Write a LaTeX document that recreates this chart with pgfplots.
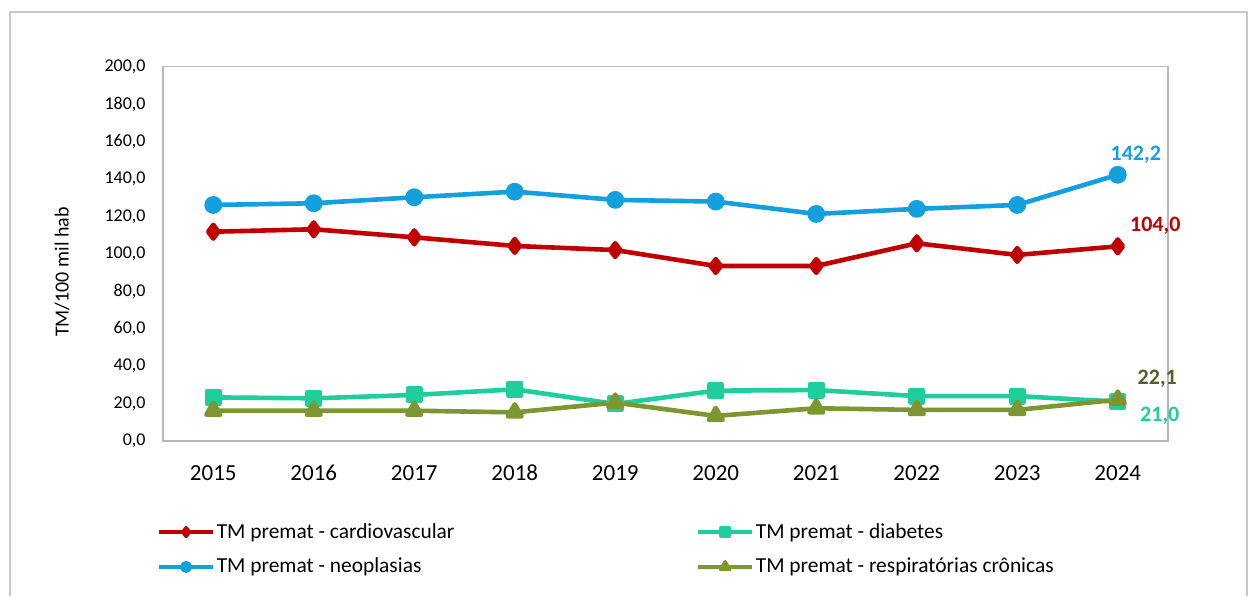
\documentclass[border=0pt]{standalone}
\usepackage{fontspec}
\setmainfont{Carlito}
\usepackage{pgfplots}
\usepackage{pgfplotstable}
\pgfplotsset{compat=1.18}

\definecolor{cardio}{RGB}{192,0,0}
\definecolor{neo}{RGB}{20,160,220}
\definecolor{diab}{RGB}{30,206,156}
\definecolor{resp}{RGB}{125,151,48}
\definecolor{respdark}{RGB}{79,98,40}
\definecolor{frame}{RGB}{200,200,200}

% taxas de mortalidade prematura por 100 mil hab, 2015-2024
\pgfplotstableread{
x cardio diab neo resp
0 111.8 23.3 126.1 16.2
1 113.1 22.8 127.0 16.2
2 108.8 24.6 130.2 16.2
3 104.2 27.6 133.2 15.3
4 102.0 19.8 128.8 20.5
5  93.5 26.9 127.9 13.4
6  93.5 27.2 121.3 17.5
7 105.6 24.0 124.0 16.6
8  99.4 24.0 126.1 16.6
9 104.0 21.0 142.2 22.1
}\tmdata

\begin{document}
\begin{tikzpicture}
\useasboundingbox (0,0) rectangle (625pt,298pt);
% outer chart frame
\draw[frame, line width=1pt] (5pt,0pt) -- (5pt,292pt) -- (623.5pt,292pt) -- (623.5pt,0pt);
\node[rotate=90, font=\fontsize{10}{12}\selectfont] at (31pt,162pt) {TM/100 mil hab};
\begin{axis}[
  at={(81.5pt,77.5pt)}, anchor=south west,
  scale only axis, width=502.5pt, height=187.2pt,
  xmin=-0.5, xmax=9.5, ymin=0, ymax=200,
  xtick={0,1,2,3,4,5,6,7,8,9},
  xticklabels={2015,2016,2017,2018,2019,2020,2021,2022,2023,2024},
  ytick={0,20,40,60,80,100,120,140,160,180,200},
  major tick length=0pt,
  axis line style={draw=black!28, line width=0.75pt},
  /pgf/number format/assume math mode=true,
  yticklabel style={anchor=east, inner sep=0pt, xshift=-8.5pt,
    font=\fontsize{9}{10}\selectfont,
    /pgf/number format/fixed, /pgf/number format/fixed zerofill,
    /pgf/number format/precision=1, /pgf/number format/use comma,
    /pgf/number format/1000 sep={}},
  xticklabel style={anchor=base, inner sep=0pt, yshift=-19.5pt,
    font=\fontsize{11.5}{13}\selectfont},
  clip=false,
  legend columns=2,
  legend cell align=left,
  legend style={at={(axis description cs:-0.006,-0.213)}, anchor=north west,
    draw=none, fill=none, inner sep=0pt, row sep=6.5pt,
    font=\fontsize{10.7}{12}\selectfont,
    nodes={inner sep=1pt},
    /tikz/every even column/.append style={column sep=120pt}},
  legend image code/.code={%
    \draw[mark repeat=2, mark phase=2, line width=1.7pt,
          every mark/.append style={scale=0.65}]
      plot coordinates {(0pt,0pt) (13.5pt,0pt) (27pt,0pt)};},
  every axis plot/.append style={line width=2.3pt, line join=round},
]
\addplot[cardio, mark=diamond*, mark size=3.4pt] table[x=x, y=cardio] {\tmdata};
\addlegendentry{TM premat - cardiovascular}
\addplot[diab, mark=square*, mark size=3.1pt] table[x=x, y=diab] {\tmdata};
\addlegendentry{TM premat - diabetes}
\addplot[neo, mark=*, mark size=3.3pt] table[x=x, y=neo] {\tmdata};
\addlegendentry{TM premat - neoplasias}
\addplot[resp, mark=triangle*, mark size=4pt] table[x=x, y=resp] {\tmdata};
\addlegendentry{TM premat - respiratórias crônicas}

\node[neo, anchor=base, font=\fontsize{11}{13}\selectfont\bfseries,
  xshift=9pt, yshift=7pt] at (axis cs:9,142.2) {142,2};
\node[cardio, anchor=base, font=\fontsize{11}{13}\selectfont\bfseries,
  xshift=18.75pt, yshift=7.35pt] at (axis cs:9,104.0) {104,0};
\node[respdark, anchor=base, font=\fontsize{11}{13}\selectfont\bfseries,
  xshift=19.75pt, yshift=7.8pt] at (axis cs:9,22.1) {22,1};
\node[diab, anchor=base, font=\fontsize{11}{13}\selectfont\bfseries,
  xshift=21pt, yshift=-10.15pt] at (axis cs:9,21.0) {21,0};
\end{axis}
\end{tikzpicture}
\end{document}
